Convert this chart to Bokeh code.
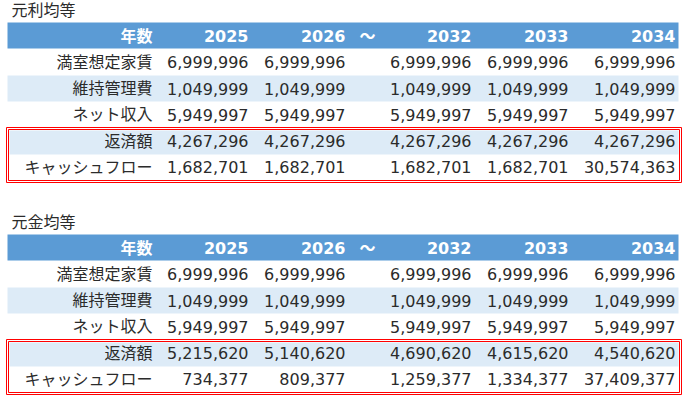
from bokeh.plotting import figure
from bokeh.models import Range1d, ColumnDataSource
from bokeh.core.properties import value
from bokeh.embed import file_html
from bokeh.resources import INLINE

# ---- data ----
years = ["2025", "2026", "2032", "2033", "2034"]
header_label = "年数"
gap_mark = "～"
row_labels = ["満室想定家賃", "維持管理費", "ネット収入", "返済額", "キャッシュフロー"]

title_1 = "元利均等"
t1_rent = [6999996, 6999996, 6999996, 6999996, 6999996]
t1_maint = [1049999, 1049999, 1049999, 1049999, 1049999]
t1_net = [5949997, 5949997, 5949997, 5949997, 5949997]
t1_repay = [4267296, 4267296, 4267296, 4267296, 4267296]
t1_cf = [1682701, 1682701, 1682701, 1682701, 30574363]

title_2 = "元金均等"
t2_rent = [6999996, 6999996, 6999996, 6999996, 6999996]
t2_maint = [1049999, 1049999, 1049999, 1049999, 1049999]
t2_net = [5949997, 5949997, 5949997, 5949997, 5949997]
t2_repay = [5215620, 5140620, 4690620, 4615620, 4540620]
t2_cf = [734377, 809377, 1259377, 1334377, 37409377]

tables = [
    (title_1, [t1_rent, t1_maint, t1_net, t1_repay, t1_cf]),
    (title_2, [t2_rent, t2_maint, t2_net, t2_repay, t2_cf]),
]

# ---- style ----
FONT = value("DejaVu Sans, Noto Sans CJK JP")
HEAD_BLUE = "#5B9BD5"
LIGHT = "#DDEBF7"
TXT = "#2b2b2b"
RED = "#FF0000"

W, H = 685, 400
p = figure(width=W, height=H, x_range=Range1d(0, W), y_range=Range1d(H, 0),
           toolbar_location=None, output_backend="svg", min_border=0,
           x_axis_location=None, y_axis_location=None)
p.grid.visible = False
p.outline_line_color = None
p.background_fill_color = "white"

label_right = 152
col_right = [248, 345, 471, 568, 675]
gap_x = 367
tops = [22, 234]

for (title, rows), T in zip(tables, tops):
    # fills
    p.quad(left=[7], right=[678], top=[T], bottom=[T + 26], fill_color=HEAD_BLUE, line_color=None)
    p.quad(left=[7], right=[678], top=[T + 53], bottom=[T + 79], fill_color=LIGHT, line_color=None)
    # double red border around last two rows
    p.quad(left=[6], right=[681], top=[T + 105], bottom=[T + 160],
           fill_color="white", line_color=RED, line_width=1)
    p.quad(left=[9], right=[678], top=[T + 108], bottom=[T + 132], fill_color=LIGHT, line_color=None)
    p.quad(left=[8], right=[679], top=[T + 107], bottom=[T + 158],
           fill_color=None, line_color=RED, line_width=1)

    # title
    p.text(x=[11], y=[T - 12.5], text=[title], text_font=FONT, text_font_size="16px",
           text_color=TXT, text_align="left", text_baseline="middle")

    # header
    hx = [label_right] + col_right
    hy = [T + 13.5] * len(hx)
    ht = [header_label] + years
    p.text(x=hx, y=hy, text=ht, text_font=FONT, text_font_size="16px", text_font_style="bold",
           text_color="white", text_align="right", text_baseline="middle")
    p.text(x=[gap_x], y=[T + 13.5], text=[gap_mark], text_font=FONT, text_font_size="16px",
           text_font_style="bold", text_color="white", text_align="center", text_baseline="middle")

    # body
    centers = [T + 39.5, T + 66, T + 92, T + 118.5, T + 144.5]
    bx, by, bt = [], [], []
    for lab, vals, cy in zip(row_labels, rows, centers):
        bx.append(label_right); by.append(cy); bt.append(lab)
        for xr, v in zip(col_right, vals):
            bx.append(xr); by.append(cy); bt.append(f"{v:,}")
    src = ColumnDataSource(dict(x=bx, y=by, t=bt))
    p.text(x="x", y="y", text="t", source=src, text_font=FONT, text_font_size="16px",
           text_color=TXT, text_align="right", text_baseline="middle")

open("out.html", "w").write(file_html(p, INLINE))
